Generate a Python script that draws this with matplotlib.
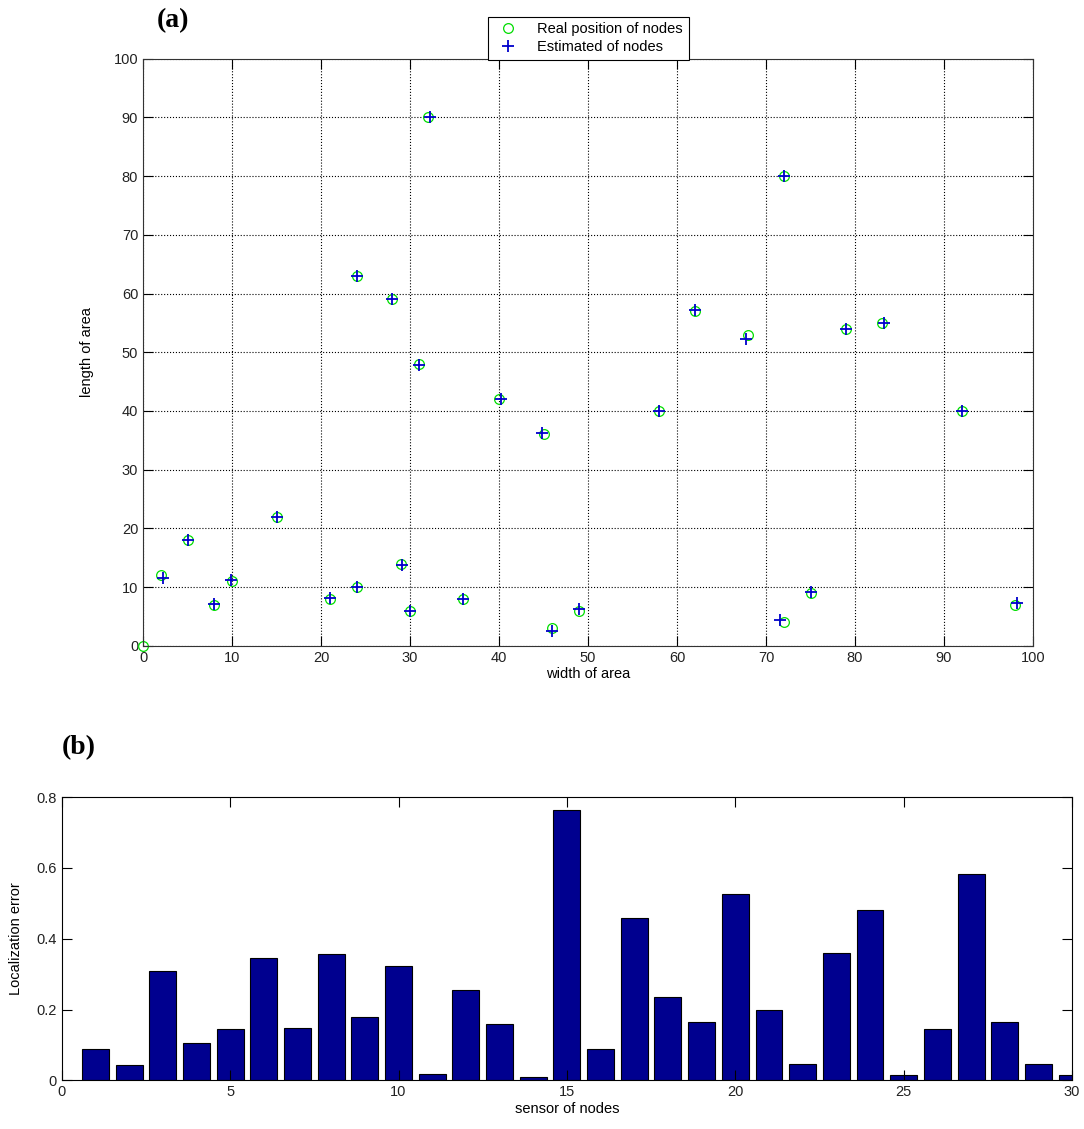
import matplotlib.pyplot as plt
import numpy as np

plt.rcParams["font.family"] = ["Liberation Sans", "DejaVu Sans"]

# real node positions
real_x = [0, 2, 5, 8, 10, 15, 21, 24, 24, 28, 29, 30, 31, 32, 36, 40, 45, 46, 49,
          58, 62, 68, 72, 72, 75, 79, 83, 92, 98]
real_y = [0, 12, 18, 7, 11, 22, 8, 10, 63, 59, 14, 6, 48, 90, 8, 42, 36, 3, 6,
          40, 57, 53, 80, 4, 9, 54, 55, 40, 7]

# estimated node positions
est_x = [2.2, 5.0, 8.0, 9.9, 15.0, 21.0, 24.0, 24.0, 28.0, 29.1, 30.0, 31.0, 32.2,
         36.0, 40.2, 44.8, 45.9, 49.0, 58.0, 62.0, 67.8, 72.0, 71.6, 75.0, 79.0,
         83.2, 92.0, 98.2]
est_y = [11.5, 18.0, 7.2, 11.2, 22.0, 8.2, 10.0, 63.0, 59.0, 13.7, 6.0, 47.8, 90.0,
         8.0, 42.0, 36.3, 2.6, 6.2, 40.0, 57.2, 52.2, 80.0, 4.4, 9.1, 54.0, 55.0,
         40.0, 7.3]

# localization error per sensor
sensors = np.arange(1, 31)
errors = [0.088, 0.043, 0.308, 0.107, 0.146, 0.345, 0.148, 0.358, 0.178, 0.323,
          0.017, 0.255, 0.160, 0.010, 0.763, 0.089, 0.460, 0.235, 0.164, 0.527,
          0.199, 0.046, 0.360, 0.481, 0.014, 0.146, 0.584, 0.164, 0.046, 0.014]

fig = plt.figure(figsize=(10.84, 11.29), dpi=100)

# (a) positions
ax1 = fig.add_axes([0.132, 0.428, 0.821, 0.520])
ax1.plot(real_x, real_y, "o", mfc="none", mec="#00dd00", ms=7, mew=0.9,
         label="Real position of nodes", clip_on=False)
ax1.plot(est_x, est_y, "+", color="#0000cc", ms=9, mew=1.3,
         label="Estimated of nodes")
ax1.set_xlim(0, 100)
ax1.set_ylim(0, 100)
ax1.set_xticks(range(0, 101, 10))
ax1.set_yticks(range(0, 101, 10))
ax1.grid(True, color="black", linestyle=":", linewidth=0.8)
ax1.tick_params(direction="in", top=True, right=True, labelsize=10.5, length=7,
                labelcolor="#222222")
ax1.set_xlabel("width of area", fontsize=10.5, labelpad=2)
ax1.set_ylabel("length of area", fontsize=10.5, labelpad=14)
for s in ax1.spines.values():
    s.set_color("#333333")
leg = ax1.legend(loc="lower center", bbox_to_anchor=(0.5, 0.998), fontsize=10.5,
                 fancybox=False, edgecolor="black", framealpha=1,
                 borderpad=0.4, handletextpad=1.0, labelspacing=0.25,
                 borderaxespad=0.0)
leg.get_frame().set_linewidth(0.8)
fig.text(0.145, 0.982, "(a)", fontsize=20, fontweight="bold",
         family="Liberation Serif", ha="left", va="center")

# (b) error bars
ax2 = fig.add_axes([0.057, 0.043, 0.932, 0.251])
ax2.bar(sensors, errors, width=0.8, color="#00008f", edgecolor="black",
        linewidth=0.8)
ax2.set_xlim(0, 30)
ax2.set_ylim(0, 0.8)
ax2.set_xticks([0, 5, 10, 15, 20, 25, 30])
ax2.set_yticks([0, 0.2, 0.4, 0.6, 0.8])
ax2.set_yticklabels(["0", "0.2", "0.4", "0.6", "0.8"])
ax2.tick_params(direction="in", top=True, right=True, labelsize=10.5, length=7,
                labelcolor="#222222")
ax2.set_xlabel("sensor of nodes", fontsize=10.5, labelpad=2)
ax2.set_ylabel("Localization error", fontsize=10.5, labelpad=10)
fig.text(0.057, 0.338, "(b)", fontsize=20, fontweight="bold",
         family="Liberation Serif", ha="left", va="center")

fig.savefig("out.png", dpi=100)
